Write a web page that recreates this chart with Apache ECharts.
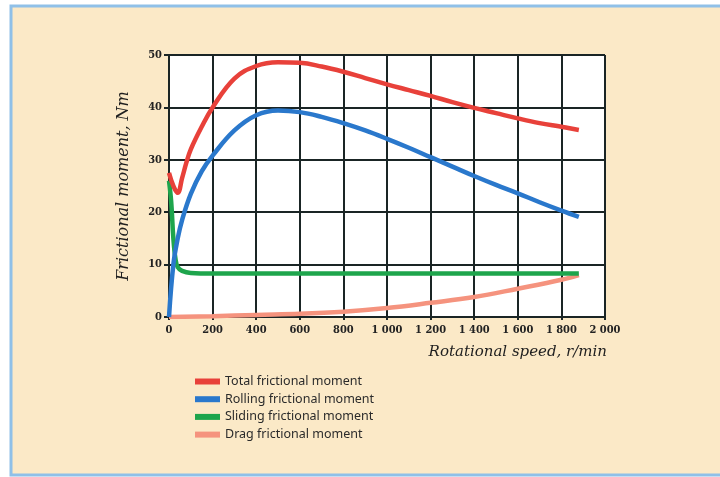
<!DOCTYPE html>
<html>
<head>
<meta charset="utf-8">
<script src="https://cdn.jsdelivr.net/npm/echarts@6/dist/echarts.min.js"></script>
<style>html,body{margin:0;padding:0;background:#fff;}#chart{width:720px;height:477px;}</style>
</head>
<body>
<div id="chart"></div>
<script>
var seriesNames = ['Total frictional moment','Rolling frictional moment','Sliding frictional moment','Drag frictional moment'];
var xTicks = ['0','200','400','600','800','1 000','1 200','1 400','1 600','1 800','2 000'];
var yTicks = ['0','10','20','30','40','50'];

var totalSpeed = [0, 20, 40, 60, 80, 100, 150, 200, 300, 400, 500, 600, 700, 800, 900, 1000, 1100, 1200, 1300, 1400, 1500, 1600, 1700, 1800, 1880];
var totalVal   = [27.5, 25, 23.7, 26.5, 29.5, 32, 36.3, 40, 45.5, 47.9, 48.6, 48.5, 47.8, 46.8, 45.6, 44.4, 43.3, 42.2, 41, 39.9, 38.9, 37.9, 37, 36.3, 35.7];

var rollingSpeed = [0, 20, 40, 60, 100, 150, 200, 300, 400, 500, 600, 700, 800, 900, 1000, 1100, 1200, 1300, 1400, 1500, 1600, 1700, 1800, 1880];
var rollingVal   = [0, 10, 15, 18.5, 23.5, 27.8, 30.8, 35.6, 38.5, 39.4, 39.1, 38.2, 37, 35.6, 34, 32.3, 30.5, 28.7, 26.9, 25.2, 23.6, 21.9, 20.3, 19.1];

var slidingSpeed = [0, 10, 20, 30, 40, 60, 100, 200, 400, 800, 1200, 1600, 1880];
var slidingVal   = [26, 22, 15, 11, 9.5, 8.8, 8.4, 8.3, 8.3, 8.3, 8.3, 8.3, 8.3];

var dragSpeed = [0, 200, 400, 600, 800, 1000, 1200, 1400, 1600, 1800, 1880];
var dragVal   = [0, 0.15, 0.4, 0.6, 1.0, 1.7, 2.7, 3.8, 5.4, 7.1, 8.0];

var colors = ['#e8413a', '#2a78cc', '#1ea54c', '#f5937e'];

function pairs(xs, ys) { return xs.map(function (x, i) { return [x, ys[i]]; }); }

var chart = echarts.init(document.getElementById('chart'));
var lists = [pairs(totalSpeed, totalVal), pairs(rollingSpeed, rollingVal), pairs(slidingSpeed, slidingVal), pairs(dragSpeed, dragVal)];
var labelFont = {fontFamily: 'DejaVu Serif Condensed', fontWeight: 'bold', fontSize: 11, color: '#222'};

chart.setOption({
  backgroundColor: '#ffffff',
  animation: false,
  color: colors,
  graphic: [
    {type: 'rect', z: -100, shape: {x: 11, y: 6, width: 730, height: 469}, style: {fill: '#fbe9c7', stroke: '#8fc0e8', lineWidth: 3}},
    {type: 'text', z: 10, style: {text: 'Rotational speed, r/min', x: 607, y: 352, textAlign: 'right', textVerticalAlign: 'middle', fontFamily: 'DejaVu Serif', fontStyle: 'italic', fontSize: 15, fill: '#1f1f1f'}}
  ],
  legend: {
    orient: 'vertical', left: 190, top: 370, itemWidth: 25, itemHeight: 6, itemGap: 4.7, icon: 'rect',
    textStyle: {fontFamily: 'Noto Sans', fontSize: 12.5, color: '#2b2b2b'},
    data: seriesNames
  },
  grid: {left: 169, right: 115, top: 55, bottom: 160, show: true, backgroundColor: '#ffffff', borderWidth: 0},
  xAxis: {
    type: 'value', min: 0, max: 2000, interval: 200,
    axisLine: {show: true, lineStyle: {color: '#1a2525', width: 2}},
    axisTick: {show: true, length: 3, lineStyle: {color: '#1a2525', width: 2}},
    splitLine: {show: true, lineStyle: {color: '#1a2525', width: 2}},
    axisLabel: Object.assign({margin: 8, formatter: function (v) { return xTicks[v / 200]; }}, labelFont)
  },
  yAxis: {
    type: 'value', min: 0, max: 50, interval: 10,
    name: 'Frictional moment, Nm', nameLocation: 'middle', nameGap: 37,
    nameTextStyle: {fontFamily: 'DejaVu Serif', fontStyle: 'italic', fontSize: 16, color: '#1f1f1f'},
    axisLine: {show: true, lineStyle: {color: '#1a2525', width: 2}},
    axisTick: {show: true, length: 5, lineStyle: {color: '#1a2525', width: 2}},
    splitLine: {show: true, lineStyle: {color: '#1a2525', width: 2}},
    axisLabel: Object.assign({margin: 7, formatter: function (v) { return yTicks[v / 10]; }}, labelFont)
  },
  series: seriesNames.map(function (n, i) {
    return {name: n, type: 'line', smooth: 0.4, showSymbol: false, data: lists[i], z: 5 - i,
      lineStyle: {width: 4.5, color: colors[i]}, itemStyle: {color: colors[i]}};
  })
});
</script>
</body>
</html>
